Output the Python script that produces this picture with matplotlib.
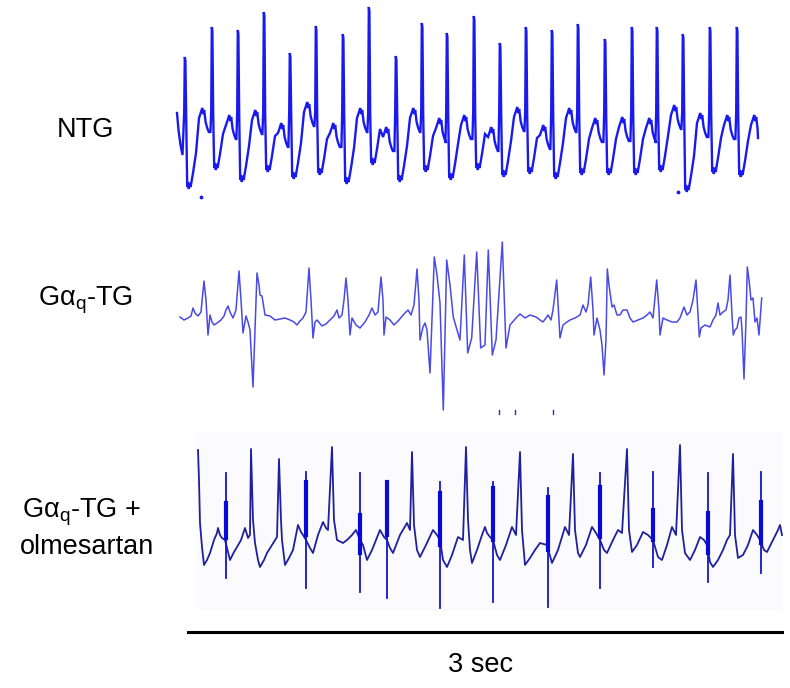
import matplotlib
matplotlib.use("Agg")
import matplotlib.pyplot as plt
from matplotlib.patches import Rectangle

# ---------------- data (time in samples ~ 198 samples/s, signal in display units, down = larger) --------------
# NTG: per-beat readings
ntg_start_x = [177, 178.5, 180.5, 182.5]
ntg_start_y = [113, 130, 145, 155]
ntg_r_x = [185, 212, 238, 264, 290, 316, 343, 369, 396, 422, 447,
           474, 500, 526, 552, 578, 605, 632, 657, 683, 710, 737]
ntg_r_peak = [57, 27, 30, 12, 53, 26, 34, 7, 56, 23, 33,
              16, 43, 27, 30, 24, 39, 27, 27, 34, 27, 27]
ntg_trough = [187, 168, 180, 170, 177, 173, 182, 163, 180, 170, 178,
              168, 175, 172, 177, 173, 173, 173, 170, 190, 172, 175]
ntg_bump = [108, 115, 110, 123, 102, 123, 108, 127, 108, 118, 115,
            127, 107, 125, 108, 118, 117, 118, 105, 113, 115, 115]
ntg_end = (758, 138)
# beat shape read from one NTG complex: offset from R peak, signal relative to marker
ntg_shape_dx = [0.4, 1.2, 2.2, 3.0, 3.8, 4.8, 5.6, 8.0, 11.0, 14.0, 16.0, 17.2, 18.2, 19.2, 20.6, 22.2, 23.8]
ntg_shape_ref = ['R', 'A', 'T', 'T', 'T', 'T', 'T', 'T', 'T', 'B', 'B', 'B', 'B', 'B', 'B', 'B', 'B']
ntg_shape_off = [4, 115, 0, -5, 2, -4, 0, -14, -34, 10, 4, 0, 6, 2, 14, 20, 24]
ntg_dots_x = [201, 678]
ntg_dots_y = [197, 192]

# Galpha_q-TG trace: points
gaq_x = [180, 184, 188, 191, 193, 195, 198, 201, 204, 206, 208, 210, 212, 214, 217, 221, 224, 226, 228, 230,
         233, 236, 239, 241, 243, 246, 248, 250, 253, 255, 257, 259, 260, 262, 265, 270, 275, 280, 285, 290,
         294, 297, 300, 303, 306, 309, 311, 313, 315, 317, 322, 326, 330, 334, 337, 339, 342, 344, 346, 348,
         350, 352, 356, 360, 365, 369, 372, 375, 378, 381, 383, 384, 386, 390, 394, 399, 404, 408, 411, 414,
         417, 419, 420, 423, 425, 427, 430, 432, 434.3, 437, 440, 443.3, 446.7, 450, 453.3, 457, 460, 464.3,
         467.7, 471.7, 476.7, 480.7, 485, 488.3, 492.3, 496, 502.3, 506, 510, 516, 520, 525, 530, 536,
         540, 543, 546, 548, 551, 553, 556.7, 559, 560, 563, 567, 570, 575, 580, 583, 586, 588, 590.7,
         593, 594, 597, 600, 602, 604, 606, 607.3, 609, 612, 614, 617, 620, 623, 627, 630, 633, 638,
         643, 647, 650, 653, 656.7, 659, 660, 663, 667, 672, 677, 680, 684, 687, 690, 693, 696, 698,
         699.3, 701, 705, 710, 713, 716, 718, 720, 723, 726, 728, 730, 732, 733.3, 735, 737, 739, 741,
         742, 744, 746, 747.3, 749, 751, 753, 755, 757, 759, 761.7]
gaq_y = [317, 320, 318, 316, 308, 313, 316, 312, 281, 300, 335, 315, 322, 325, 323, 320, 316, 310, 306, 312,
         318, 310, 271, 300, 333, 316, 322, 330, 387, 330, 273, 285, 295, 296, 315, 316, 320, 319, 318, 320,
         322, 325, 321, 318, 312, 268, 300, 338, 322, 320, 326, 324, 320, 316, 310, 318, 315, 300, 278, 300,
         335, 318, 325, 328, 322, 315, 308, 315, 312, 277, 300, 335, 317, 320, 325, 320, 314, 310, 315, 305,
         269, 300, 340, 327, 323, 330, 373, 320, 257, 275, 303, 410, 260, 285, 317, 330, 340, 255,
         353, 338, 252, 348, 345, 250, 355, 340, 242, 348, 325, 318, 314, 318, 315, 317,
         320, 322, 318, 315, 320, 310, 280, 320, 338, 325, 322, 320, 318, 315, 305, 312, 305, 277,
         310, 335, 318, 330, 345, 375, 340, 269, 285, 307, 305, 315, 315, 310, 310, 318, 322, 320,
         318, 315, 312, 318, 280, 310, 335, 318, 320, 322, 322, 318, 307, 315, 312, 300, 280, 315,
         337, 328, 325, 327, 320, 315, 303, 315, 312, 310, 300, 275, 315, 335, 330, 328, 318, 317,
         330, 379, 320, 267, 280, 300, 298, 322, 318, 335, 298]
gaq_tick_x = [499, 515, 553]
gaq_tick_y = [410, 414]

# Galpha_q-TG + olmesartan trace
olm_x = [198, 199, 200, 202, 204, 207, 210, 214, 217, 218, 220, 222, 225, 230, 234, 237, 241, 245, 248, 250,
         251, 253, 255, 258, 260, 264, 267, 272, 277, 279, 281, 282, 285, 289, 293, 296, 298, 301, 303, 306,
         310, 313, 318, 323, 326, 328, 332, 334, 337, 343, 347, 352, 356, 360, 363, 367, 372, 376, 380, 384,
         387, 390, 393, 400, 407, 410, 412, 414, 417, 420, 426, 433, 437, 440, 443, 447, 452, 458, 463, 466,
         468, 470, 472, 477, 482, 485, 487, 490, 493, 497, 500, 506, 512, 516, 520, 522, 525, 530, 535, 540,
         547, 552, 558, 565, 569, 573, 575, 578, 580, 586, 592, 596, 600, 604, 607, 613, 618, 622, 627, 629,
         632, 637, 643, 648, 653, 658, 662, 667, 672, 676, 680, 682, 685, 690, 695, 700, 704, 707, 710, 713,
         718, 723, 727, 730, 733, 735, 738, 743, 748, 753, 757, 760, 764, 767, 772, 778, 780, 782]
olm_y = [450, 480, 523, 547, 565, 560, 553, 540, 533, 528, 535, 538, 540, 560, 552, 547, 540, 528, 538, 535,
         449, 520, 543, 560, 567, 560, 553, 545, 537, 459, 520, 540, 565, 558, 550, 535, 525, 532, 535, 540,
         548, 553, 535, 522, 528, 530, 447, 520, 540, 543, 540, 535, 530, 540, 545, 560, 550, 540, 530, 537,
         540, 548, 553, 535, 523, 530, 452, 525, 550, 557, 545, 530, 535, 540, 560, 567, 555, 537, 540, 447,
         520, 550, 563, 550, 535, 527, 533, 537, 540, 555, 560, 545, 527, 535, 452, 530, 565, 558, 550, 543,
         545, 563, 550, 527, 535, 454, 530, 553, 557, 545, 527, 533, 540, 550, 553, 540, 530, 533, 449, 530,
         552, 545, 532, 535, 540, 557, 560, 545, 527, 535, 445, 530, 553, 560, 550, 537, 540, 545, 562, 567,
         560, 550, 540, 535, 454, 535, 558, 555, 545, 530, 535, 540, 550, 552, 542, 530, 525, 535]
olm_spike_x = [225.5, 306, 359.5, 387, 440, 493, 547.5, 600, 653, 707.5, 760.5]
olm_spike_top = [473, 472, 473, 482, 482, 482, 488, 473, 472, 473, 472]
olm_spike_bottom = [578, 588, 592, 598, 608, 602, 607, 588, 567, 582, 573]
olm_spike_bold_top = [503, 482, 515, 482, 493, 488, 497, 487, 510, 513, 502]
olm_spike_bold_bottom = [538, 535, 553, 535, 545, 540, 550, 537, 540, 553, 543]

labels = ["NTG", "Gα$_{\\mathregular{q}}$-TG", "Gα$_{\\mathregular{q}}$-TG +", "olmesartan"]
label_x = [85, 86, 82, 87]
label_y = [130, 300, 512, 547]
scale_x = [188, 782]
scale_y = 632
scale_label = "3 sec"

# ---------------- build NTG trace from beat readings ----------------
ntg_x = list(ntg_start_x)
ntg_y = list(ntg_start_y)
for i, r in enumerate(ntg_r_x):
    if i > 0:
        ntg_x += [r - 1.6, r - 0.8]
        ntg_y += [ntg_bump[i - 1] + 24, 112]
    else:
        ntg_x += [r - 0.8]
        ntg_y += [112]
    ntg_x.append(r - 0.2)
    ntg_y.append(ntg_r_peak[i])
    for dx, ref, off in zip(ntg_shape_dx, ntg_shape_ref, ntg_shape_off):
        x = r + dx
        if x >= ntg_end[0]:
            break
        base = {'R': ntg_r_peak[i], 'A': 0, 'T': ntg_trough[i], 'B': ntg_bump[i]}[ref]
        ntg_x.append(x)
        ntg_y.append(base + off)
ntg_x.append(ntg_end[0])
ntg_y.append(ntg_end[1])

# ---------------- figure ----------------
fig = plt.figure(figsize=(7.9, 6.88), dpi=100)
ax = fig.add_axes([0, 0, 1, 1])
ax.set_xlim(0, 790)
ax.set_ylim(688, 0)
ax.axis("off")

ax.add_patch(Rectangle((197, 432), 585, 178, facecolor="#fbfbfd", edgecolor="none", zorder=0))

ax.plot(ntg_x, ntg_y, color="#1a1aee", lw=1.7, solid_joinstyle="miter", zorder=2)
ax.scatter(ntg_dots_x, ntg_dots_y, s=3, color="#1a1aee", zorder=2)

ax.plot(gaq_x, gaq_y, color="#4a4ae6", lw=1.1, zorder=2)
for tx in gaq_tick_x:
    ax.plot([tx, tx], gaq_tick_y, color="#2a2ad8", lw=1.0)

ax.plot(olm_x, olm_y, color="#20209e", lw=1.3, zorder=2)
for sx, st, sb, bt, bb in zip(olm_spike_x, olm_spike_top, olm_spike_bottom,
                              olm_spike_bold_top, olm_spike_bold_bottom):
    ax.plot([sx, sx], [st, sb], color="#1414c8", lw=1.3, zorder=3)
    ax.plot([sx, sx], [bt, bb], color="#0a0ad8", lw=3.0, zorder=3)

ax.plot(scale_x, [scale_y, scale_y], color="black", lw=2.2)
ax.text(sum(scale_x) / 2 - 5, 665, scale_label, ha="center", va="center",
        fontsize=19.5, family="Liberation Sans")

for t, x, y in zip(labels, label_x, label_y):
    ax.text(x, y, t, ha="center", va="center", fontsize=19.5, family="Liberation Sans")

fig.savefig("out.png", dpi=100, facecolor="white")
